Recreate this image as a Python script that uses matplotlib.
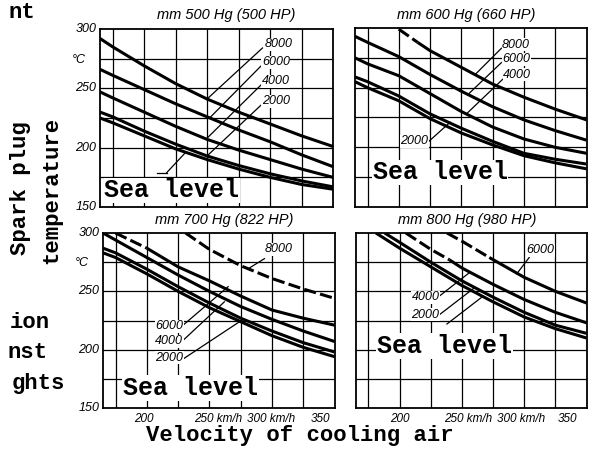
import matplotlib
matplotlib.use('Agg')
import matplotlib.pyplot as plt
from matplotlib.transforms import blended_transform_factory

W, H = 607, 459

# x axis: velocity of cooling air (km/h), y: spark plug temperature (deg C)
speeds = [165, 175, 200, 225, 250, 275, 300, 325, 350]

# mm 500 Hg (500 HP)
tl_sea = [225, 221, 210, 199, 190, 182, 175, 169, 165]
tl_2000 = [230, 226, 214, 203, 193, 185, 178, 172, 167]
tl_4000 = [247, 242, 230, 218, 207, 198, 190, 182, 175]
tl_6000 = [266, 261, 249, 237, 226, 215, 205, 194, 184]
tl_8000 = [292, 285, 269, 254, 241, 230, 220, 210, 201]

# mm 600 Hg (660 HP)
tr_sea = [255, 250, 239, 224, 212, 202, 193, 187, 182]
tr_2000 = [259, 255, 243, 228, 216, 205, 195, 190, 186]
tr_4000 = [275, 270, 260, 245, 230, 217, 207, 200, 195]
tr_6000 = [293, 288, 276, 261, 247, 234, 223, 214, 206]
tr_8000_x = [200, 215, 225, 250, 275, 300, 325, 350]
tr_8000 = [299, 288, 281, 267, 253, 242, 232, 223]

# mm 700 Hg (822 HP)
bl_sea = [283, 279, 265, 250, 236, 224, 212, 202, 194]
bl_2000 = [287, 283, 269, 254, 240, 227, 216, 206, 198]
bl_4000 = [300, 294, 279, 264, 250, 237, 226, 216, 207]
bl_6000_x = [175, 200, 225, 250, 275, 300, 325, 350]
bl_6000 = [300, 287, 271, 259, 246, 234, 227, 221]
bl_8000_x = [231, 250, 275, 300, 325, 350]
bl_8000 = [300, 286, 272, 261, 252, 244]

# mm 800 Hg (980 HP)
br_sea_x = [181, 200, 225, 250, 275, 300, 325, 350]
br_sea = [300, 287, 271, 255, 241, 228, 218, 210]
br_2000_x = [188, 200, 225, 250, 275, 300, 325, 350]
br_2000 = [300, 292, 275, 259, 245, 232, 221, 214]
br_4000_x = [205, 225, 240, 250, 275, 300, 325, 350]
br_4000 = [300, 286, 277, 270, 256, 243, 232, 223]
br_6000_x = [238, 250, 272, 300, 325, 350]
br_6000 = [300, 293, 279, 262, 250, 240]

titles = ['mm 500 Hg (500 HP)', 'mm 600 Hg (660 HP)',
          'mm 700 Hg (822 HP)', 'mm 800 Hg (980 HP)']

grid_x = [175, 200, 225, 250, 275, 300, 325]
grid_y = [175, 200, 225, 250, 275]

MONO = 'Liberation Mono'
SANS = 'Liberation Sans'
LW = 2.2
DASH = (4, 1.4)

fig = plt.figure(figsize=(W / 100, H / 100), dpi=100)


def panel(l, t, r, b):
    ax = fig.add_axes([l / W, 1 - b / H, (r - l) / W, (b - t) / H])
    ax.set_xlim(165, 350)
    ax.set_ylim(150, 300)
    ax.set_xticks([])
    ax.set_yticks([])
    for s in ax.spines.values():
        s.set_linewidth(1.3)
    for g in grid_x:
        ax.axvline(g, color='k', lw=0.9, zorder=1)
    for g in grid_y:
        ax.axhline(g, color='k', lw=0.9, zorder=1)
    return ax


def curve(ax, x, y, ndash=0, alldash=False):
    if alldash:
        ax.plot(x, y, color='k', lw=LW, dashes=DASH, zorder=3)
        return
    if ndash:
        ax.plot(x[:ndash + 1], y[:ndash + 1], color='k', lw=LW, dashes=DASH, zorder=3)
    ax.plot(x[ndash:], y[ndash:], color='k', lw=LW, solid_capstyle='butt', zorder=3)


def label(ax, x, y, s, ha='left'):
    ax.text(x, y, s, fontsize=9, family=SANS, style='italic', ha=ha, va='center',
            zorder=5, bbox=dict(fc='white', ec='none', pad=0.4))


def leader(ax, p0, p1):
    ax.plot([p0[0], p1[0]], [p0[1], p1[1]], color='k', lw=0.9, zorder=4)


def sea(ax, x, y):
    ax.text(x, y, 'Sea level', fontsize=18, family=MONO, weight='bold',
            ha='center', va='center', zorder=5,
            bbox=dict(fc='white', ec='none', pad=0.5))


def yticks(ax):
    tr = blended_transform_factory(ax.transAxes, ax.transData)
    for v in [300, 250, 200, 150]:
        ax.text(-0.015, v, str(v), transform=tr, ha='right', va='center',
                fontsize=9, family=SANS, style='italic')
    ax.text(-0.09, 274, '°C', transform=tr, ha='center', va='center',
            fontsize=9, family=SANS, style='italic')


def xticks(ax, pos):
    tr = blended_transform_factory(ax.transData, ax.transAxes)
    texts = ['200', '250 km/h', '300 km/h', '350']
    for i, (x, s) in enumerate(zip(pos, texts)):
        ax.text(x, -0.06, s, transform=tr, ha='center' if i == 0 else 'left',
                va='center', fontsize=8.5, family=SANS, style='italic',
                clip_on=False)


# top left
ax = panel(100, 29, 333, 207)
for ys in [tl_sea, tl_2000, tl_4000, tl_6000, tl_8000]:
    curve(ax, speeds, ys)
label(ax, 296, 287, '8000')
label(ax, 293.5, 272, '6000')
label(ax, 293.5, 256, '4000')
label(ax, 293.5, 239, '2000')
leader(ax, (294, 284), (250, 241))
leader(ax, (293, 269), (252, 225))
leader(ax, (293, 253), (250, 208))
leader(ax, (293, 236), (250, 193))
leader(ax, (210, 179), (218, 179))
leader(ax, (218, 179), (233, 196))
sea(ax, 222, 164)
yticks(ax)

# top right
ax = panel(355, 28, 586.5, 207)
for ys in [tr_sea, tr_2000, tr_4000, tr_6000]:
    curve(ax, speeds, ys)
curve(ax, tr_8000_x, tr_8000, ndash=1)
label(ax, 282.5, 286, '8000')
label(ax, 282.5, 274, '6000')
label(ax, 283.5, 261, '4000')
label(ax, 223.5, 205, '2000', ha='right')
leader(ax, (282, 283), (261, 261))
leader(ax, (282, 271), (255, 244))
leader(ax, (283, 257), (254, 228))
leader(ax, (224, 205), (241, 221))
sea(ax, 233, 179)

# bottom left
ax = panel(103, 233, 334.5, 408)
for ys in [bl_sea, bl_2000, bl_4000]:
    curve(ax, speeds, ys)
curve(ax, bl_6000_x, bl_6000, ndash=1)
curve(ax, bl_8000_x, bl_8000, alldash=True)
label(ax, 294, 286, '8000')
label(ax, 229, 220, '6000', ha='right')
label(ax, 229, 207, '4000', ha='right')
label(ax, 229, 193, '2000', ha='right')
leader(ax, (294, 278), (282, 270))
leader(ax, (229, 221), (265, 254))
leader(ax, (229, 208), (262, 241))
leader(ax, (229, 192), (277, 226))
sea(ax, 235, 167)
yticks(ax)
xticks(ax, [198, 238, 280, 331])

# bottom right
ax = panel(356, 233, 586.5, 408)
curve(ax, br_sea_x, br_sea)
curve(ax, br_2000_x, br_2000)
curve(ax, br_4000_x, br_4000, ndash=2)
curve(ax, br_6000_x, br_6000, ndash=2)
label(ax, 301.5, 285, '6000')
label(ax, 232, 245, '4000', ha='right')
label(ax, 232, 230, '2000', ha='right')
leader(ax, (304, 279), (294, 265))
leader(ax, (232, 246), (256, 266))
leader(ax, (232, 230), (260, 253))
leader(ax, (238, 222), (266, 245))
sea(ax, 236, 203)
xticks(ax, [200, 236, 278, 327])

# panel titles
for s, (x, y) in zip(titles, [(226, 15), (466, 15), (224, 220), (467, 220)]):
    fig.text(x / W, 1 - y / H, s, fontsize=10.5, family=SANS, style='italic',
             ha='center', va='center')

# axis titles
fig.text(300 / W, 1 - 435 / H, 'Velocity of cooling air', fontsize=16,
         family=MONO, weight='bold', ha='center', va='center')
fig.text(21 / W, 1 - 188 / H, 'Spark plug', fontsize=16, family=MONO,
         weight='bold', rotation=90, ha='center', va='center')
fig.text(52 / W, 1 - 190 / H, 'temperature', fontsize=16, family=MONO,
         weight='bold', rotation=90, ha='center', va='center')

# cropped caption fragments on the left edge
for s, x, y in [('nt', 35, 12), ('ion', 50, 323), ('nst', 48, 352), ('ghts', 65, 383)]:
    fig.text(x / W, 1 - y / H, s, fontsize=16, family=MONO, weight='bold',
             ha='right', va='center')

fig.savefig('out.png', dpi=100)
